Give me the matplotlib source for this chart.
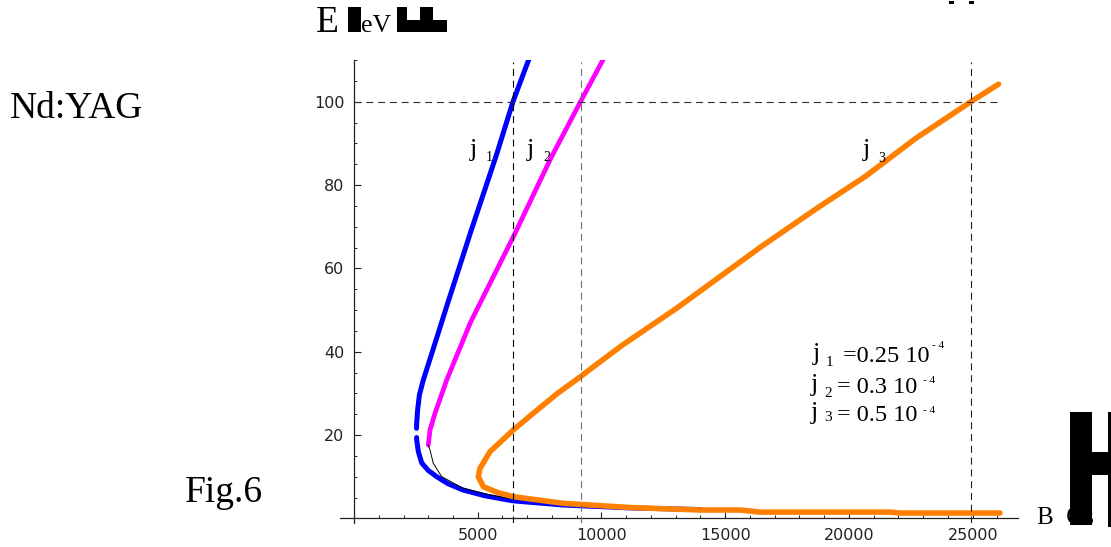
import matplotlib
matplotlib.use("Agg")
import matplotlib.pyplot as plt
from matplotlib.patches import Rectangle
from matplotlib.ticker import MultipleLocator, FixedLocator

# j1 curve (blue), drawn in two pieces because of the small gap near E~20
blue_B_up = [7079, 6424, 5754, 4719, 3762, 3123, 2800, 2642, 2570, 2533, 2525]
blue_E_up = [110.4, 100, 87.2, 68.8, 51.2, 39.2, 33.2, 29.6, 26.0, 22.9, 21.6]
blue_B_lo = [2530, 2533, 2600, 2735, 3000, 3341, 3800, 4404, 5300, 6424, 8444, 11150, 14000]
blue_E_lo = [19.4, 18.8, 16.0, 13.3, 11.5, 10.0, 8.3, 6.8, 5.4, 4.2, 3.2, 2.5, 2.1]

# j2 curve (magenta) and its thin black continuation
mag_B = [10093, 9152, 7950, 6473, 4719, 3745, 3273, 3071, 3002]
mag_E = [110.4, 100, 86.4, 68.0, 47.2, 33.2, 25.2, 21.2, 17.6]
thin_B = [3002, 3071, 3204, 3543, 4416, 5495, 6436]
thin_E = [17.6, 16.4, 13.2, 10.0, 7.2, 5.6, 4.6]

# j3 curve (orange)
org_B = [26044, 24929, 22700, 20650, 18700, 16450, 13030, 10850, 9680, 9152, 8226,
         7300, 6436, 5495, 5091, 5023, 5224, 5800, 6436, 8457, 11150, 13980, 15600,
         16400, 21650, 22060, 26100]
org_E = [104.2, 100, 91.2, 82.0, 74.4, 65.2, 50.4, 41.6, 36.4, 34.0, 30.0,
         25.5, 21.2, 16.0, 12.0, 10.0, 7.6, 6.2, 5.2, 3.6, 2.6, 2.0, 2.0,
         1.5, 1.5, 1.27, 1.27]

# crossings with E = 100
cross_B = [6424, 9152, 24929]
cross_col = ["black", "#707070", "#202020"]
E_level = 100

x_major = [5000, 10000, 15000, 20000, 25000]
y_major = [20, 40, 60, 80, 100]

W, H = 1111, 547
fig = plt.figure(figsize=(W / 100, H / 100), dpi=100)
ax = fig.add_axes([340 / W, 1 - 522.5 / H, (1018 - 340) / W, (522.5 - 60) / H])
ax.set_xlim(-566, 26830)
ax.set_ylim(-1.0, 110.0)

for s in ["top", "right"]:
    ax.spines[s].set_visible(False)
ax.spines["left"].set_position(("data", 0))
ax.spines["bottom"].set_position(("data", 0))
for s in ["left", "bottom"]:
    ax.spines[s].set_color("#222222")
    ax.spines[s].set_linewidth(0.9)

ax.xaxis.set_major_locator(FixedLocator(x_major))
ax.xaxis.set_minor_locator(MultipleLocator(1000))
ax.yaxis.set_major_locator(FixedLocator(y_major))
ax.yaxis.set_minor_locator(MultipleLocator(5))
ax.tick_params(axis="x", which="major", direction="in", length=4, width=0.8,
               pad=7, labelsize=11.5, labelcolor="#222222", color="#222222")
ax.tick_params(axis="x", which="minor", direction="in", length=2.3, width=0.7, color="#222222")
ax.tick_params(axis="y", which="major", direction="in", length=5, width=0.8,
               pad=7, labelsize=11.5, labelcolor="#222222", color="#222222")
ax.tick_params(axis="y", which="minor", direction="in", length=2.5, width=0.7, color="#222222")

# curves
ax.plot(blue_B_up, blue_E_up, color="#0000ff", lw=3.6, solid_capstyle="round", zorder=3)
ax.plot(blue_B_lo, blue_E_lo, color="#0000ff", lw=3.6, solid_capstyle="round", zorder=3)
ax.plot(mag_B, mag_E, color="#ff00ff", lw=3.4, solid_capstyle="round", zorder=3)
ax.plot(thin_B, thin_E, color="black", lw=0.7, zorder=4)
ax.plot(org_B, org_E, color="#ff8000", lw=4.0, solid_capstyle="round", zorder=5)

# dashed guide lines
dash = (0, (6.3, 4.3))
ax.plot([0, 26100], [E_level, E_level], color="#303030", lw=0.8, linestyle=dash, zorder=6)
for b, c in zip(cross_B, cross_col):
    ax.plot([b, b], [-1, 109.6], color=c, lw=0.8, linestyle=dash, zorder=6)


def txt(px, py, s, size, **kw):
    fig.text(px / W, 1 - py / H, s, fontsize=size, family="Liberation Serif",
             ha="left", va="baseline", **kw)


def box(x0, y0, x1, y1):
    fig.add_artist(Rectangle((x0 / W, 1 - y1 / H), (x1 - x0) / W, (y1 - y0) / H,
                             transform=fig.transFigure, color="black", lw=0))


# curve labels
txt(470, 156, "j", 19)
txt(486, 161, "1", 10)
txt(527, 156, "j", 19)
txt(543, 161, "2", 10)
txt(863, 156, "j", 19)
txt(878, 162, "3", 10)

# legend text
txt(813, 360, "j", 19)
txt(826, 366, "1", 11)
txt(843, 362, "=0.25 10", 17.5)
txt(932, 348, "- 4", 8)
txt(811, 391, "j", 19)
txt(824, 397, "2", 11)
txt(837, 393, "= 0.3 10", 17.5)
txt(923, 383, "- 4", 8)
txt(811, 419, "j", 19)
txt(824, 421, "3", 11)
txt(837, 421, "= 0.5 10", 17.5)
txt(923, 413, "- 4", 8)

# side texts
txt(10, 118, "Nd:YAG", 27)
txt(185, 502, "Fig.6", 27)

# axis labels (with the blotted glyphs of the original)
txt(316, 32, "E", 27)
txt(361, 32, "eV", 18.5)
box(348, 7, 361, 32)
box(397, 20, 447, 32)
box(397, 7, 407, 20)
box(420, 7, 433, 20)
txt(1037, 524, "B  Gs", 18)
box(1070, 412, 1092, 525)
box(1092, 452, 1108, 475)
box(1108, 412, 1111, 527)
box(949, 1, 954, 4)
box(969, 1, 974, 4)

fig.savefig("out.png", dpi=100)
